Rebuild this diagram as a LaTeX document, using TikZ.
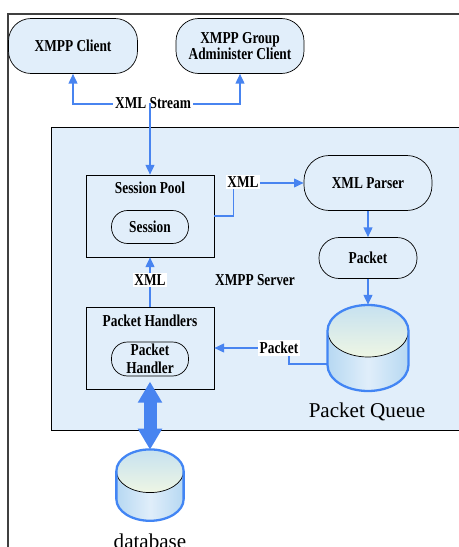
\documentclass[tikz,border=0pt]{standalone}
\usepackage{fontspec}
\setmainfont[FakeStretch=0.8]{Liberation Serif}
\newfontfamily\bigserif{Liberation Serif}
\usetikzlibrary{arrows.meta}

\definecolor{boxfill}{RGB}{225,238,250}
\definecolor{linkblue}{RGB}{72,132,240}
\definecolor{cylblue}{RGB}{66,133,244}
\definecolor{cylside}{RGB}{182,216,242}
\definecolor{cylmid}{RGB}{224,238,250}
\definecolor{cyltop}{RGB}{198,225,240}
\definecolor{cylbottom}{RGB}{238,246,228}

\tikzset{
  roundbox/.style={draw, fill=boxfill, rounded corners=#1, align=center, inner sep=0pt},
  plainbox/.style={draw, fill=boxfill, minimum width=2.56cm, minimum height=1.64cm},
  link/.style={linkblue, line width=0.8pt, -{Triangle[length=5.5pt,width=5pt]}},
  bilink/.style={linkblue, line width=0.8pt, {Triangle[length=5.5pt,width=5pt]}-{Triangle[length=5.5pt,width=5pt]}},
  tag/.style={fill=white, inner sep=1pt},
  drum/.pic={
    \shade[left color=cylside, right color=cylside, middle color=cylmid]
      (-40.5,0) -- (-40.5,34) arc[start angle=180, end angle=0, x radius=40.5, y radius=26] -- (40.5,0) -- cycle;
    \shade[top color=cyltop, bottom color=cylbottom] (0,0) ellipse[x radius=40.5, y radius=26];
    \draw[black, thin] (-40.5,0) arc[start angle=180, end angle=0, x radius=40.5, y radius=26];
    \draw[cylblue, line width=1.3pt] (-40.5,0) arc[start angle=180, end angle=360, x radius=40.5, y radius=26]
      -- (40.5,34) arc[start angle=0, end angle=180, x radius=40.5, y radius=26] -- cycle;
  },
}

\begin{document}
\begin{tikzpicture}[x=0.02cm, y=-0.02cm, font=\fontsize{9.5}{10.5}\selectfont\bfseries]
  \useasboundingbox (0,0) rectangle (458,547);

  % frame and server area
  \draw[black!75, thick] (8,550) -- (8,14) -- (462,14);
  \draw[fill=boxfill] (462,127) -- (51,127) -- (51,430) -- (462,430);

  \node[roundbox=0.45cm, minimum width=2.58cm, minimum height=1.1cm] (client) at (73,46) {XMPP Client};
  \node[roundbox=0.45cm, minimum width=2.56cm, minimum height=1.1cm,
        font=\fontsize{9.5}{9}\selectfont\bfseries] (admin) at (240,46) {XMPP Group\\Administer Client};

  \node[plainbox] (pool) at (150,216) {};
  \node (pooltitle) at (150,188) {Session Pool};
  \node[roundbox=0.32cm, minimum width=1.54cm, minimum height=0.66cm] (session) at (150,227) {Session};

  \node[plainbox] (handlers) at (150,348) {};
  \node (handlerstitle) at (150,321) {Packet Handlers};
  \node[roundbox=0.32cm, minimum width=1.54cm, minimum height=0.68cm] (handler) at (150,359) {Packet\\Handler};

  \node[roundbox=0.5cm, minimum width=2.56cm, minimum height=1.1cm] (parser) at (368,183) {XML Parser};
  \node[roundbox=0.4cm, minimum width=1.96cm, minimum height=0.82cm] (packet) at (368,258) {Packet};
  \node (server) at (255,280) {XMPP Server};

  \pic at (368,331) {drum};
  \node[minimum width=1.62cm, minimum height=1.7cm, inner sep=0pt] (queue) at (368,347.5) {};
  \node[font=\fontsize{12}{14}\selectfont\bigserif] (queuename) at (367,412) {Packet Queue};

  \pic[scale=0.83] at (150,471) {drum};
  \node[minimum width=1.34cm, minimum height=1.42cm, inner sep=0pt] (db) at (150,485.5) {};
  \node[font=\fontsize{12}{14}\selectfont\bigserif] (dbname) at (150,541) {database};

  % connectors
  \draw[bilink] (client.south) -- ++(0,30) -| (admin.south);
  \node[tag] (stream) at (153,103) {XML Stream};
  \draw[link] (pool.north |- stream.center) -- (pool.north);

  \draw[link] (pool.east) -- ++(19,0) |- (parser.west);
  \node[tag] (xmltag) at (243,182) {XML};

  \draw[link] (parser) -- (packet);
  \draw[link] (packet) -- (queue);

  \draw[link] (handlers.north) -- (pool.south);
  \node[tag] (uptag) at (150,280) {XML};

  \draw[link] ([yshift=-0.33cm]queue.west) -| (289,348) -- (handlers.east |- 0,348);
  \node[tag] (packettag) at (279,348) {Packet};

  \draw[linkblue, line width=0.26cm, {Triangle[width=0.46cm,length=0.42cm]}-{Triangle[width=0.46cm,length=0.42cm]}]
    ([yshift=-3]handler.south) -- (db.north);
\end{tikzpicture}
\end{document}
